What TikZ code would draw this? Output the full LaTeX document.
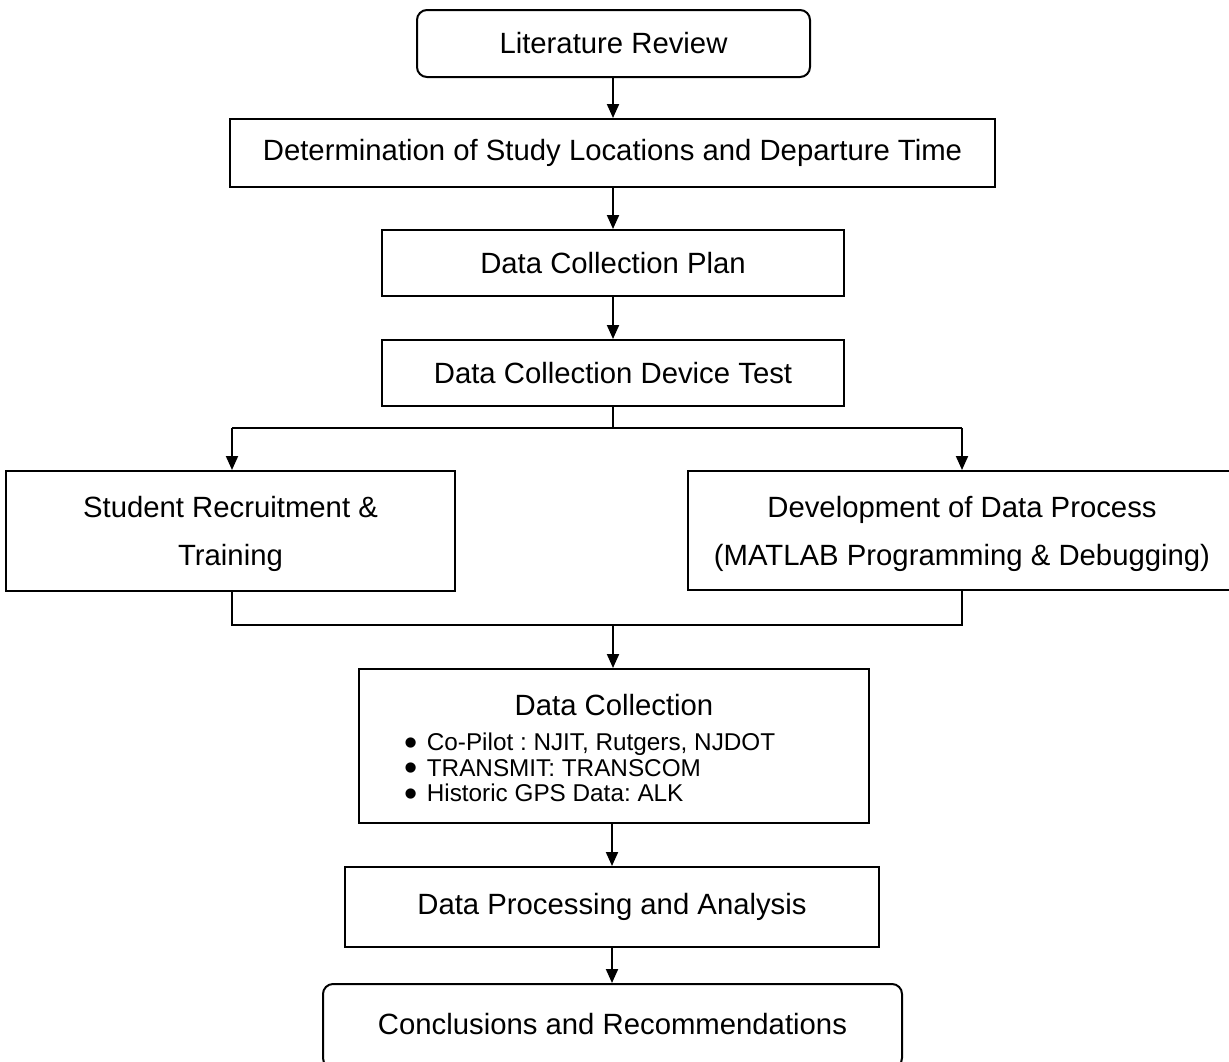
\documentclass[tikz,border=0pt]{standalone}
\usepackage{fontspec}
\setmainfont{Liberation Sans}
\usetikzlibrary{arrows.meta}
\newcommand{\bigdot}{\smash{\raisebox{-4.5pt}{\scalebox{1.55}{\textbullet}}}}
\begin{document}
\begin{tikzpicture}[x=1pt,y=-1pt,
  box/.style={draw, line width=2pt, inner sep=0pt, align=center, font=\fontsize{29.3}{34}\selectfont},
  rbox/.style={box, rounded corners=10pt},
  twoline/.style={box, font=\fontsize{29.3}{48}\selectfont},
  conn/.style={line width=2pt},
  arr/.style={line width=2pt, -{Triangle[length=14pt,width=12pt]}},
  txt/.style={inner sep=0pt}]
\clip (0,0) rectangle (1229,1061);
\fill[white] (0,0) rectangle (1229,1061);
\node[rbox, minimum width=393pt, minimum height=67pt] (lit) at (613.5,43.5) {Literature Review};
\node[box, minimum width=765pt, minimum height=68pt] (det) at (612.5,153) {\raisebox{-1.5pt}{Determination of Study Locations and Departure Time}};
\node[box, minimum width=462pt, minimum height=66pt] (plan) at (613,263) {Data Collection Plan};
\node[box, minimum width=462pt, minimum height=66pt] (test) at (613,373) {Data Collection Device Test};
\node[twoline, minimum width=449pt, minimum height=120pt, text depth=0pt] (stu) at (230.5,531) {Student Recruitment \&\\Training};
\node[twoline, minimum width=548pt, minimum height=119pt, text depth=0pt] (dev) at (962,530.5) {Development of Data Process\\(MATLAB Programming \& Debugging)};
\node[box, minimum width=510pt, minimum height=154pt] (dc) at (614,746) {};
\node[txt, font=\fontsize{29.3}{34}\selectfont] (dct) at (614,705) {Data Collection};
\node[txt, anchor=west, font=\fontsize{24.3}{25.5}\selectfont\frenchspacing] (dcl) at (404,771)
  {\begin{tabular}{@{}l@{\hspace{9.5pt}}l@{}}\bigdot & Co-Pilot : NJIT, Rutgers, NJDOT\\
   \bigdot & TRANSMIT: TRANSCOM\\
   \bigdot & Historic GPS Data: ALK\end{tabular}};
\node[box, minimum width=534pt, minimum height=80pt] (dp) at (612,907) {Data Processing and Analysis};
\node[rbox, minimum width=579pt, minimum height=84pt] (conc) at (612.5,1026) {\raisebox{4pt}{Conclusions and Recommendations}};
\coordinate (s) at (613,428);
\coordinate (sl) at (232,428);
\coordinate (sr) at (962,428);
\coordinate (m) at (613,625);
\coordinate (ml) at (232,625);
\coordinate (mr) at (962,625);
\draw[arr] (lit.south -| s) -- (det.north -| s);
\draw[arr] (det.south -| s) -- (plan.north -| s);
\draw[arr] (plan.south -| s) -- (test.north -| s);
\draw[conn] (test.south -| s) -- (s);
\draw[conn] (sl) -- (sr);
\draw[arr] (sl) -- (sl |- stu.north);
\draw[arr] (sr) -- (sr |- dev.north);
\draw[conn] (stu.south -| ml) -- (ml) -- (mr) -- (dev.south -| mr);
\draw[arr] (m) -- (dc.north -| m);
\draw[arr] (dc.south -| dp) -- (dp.north);
\draw[arr] (dp.south) -- (conc.north -| dp);
\end{tikzpicture}
\end{document}
